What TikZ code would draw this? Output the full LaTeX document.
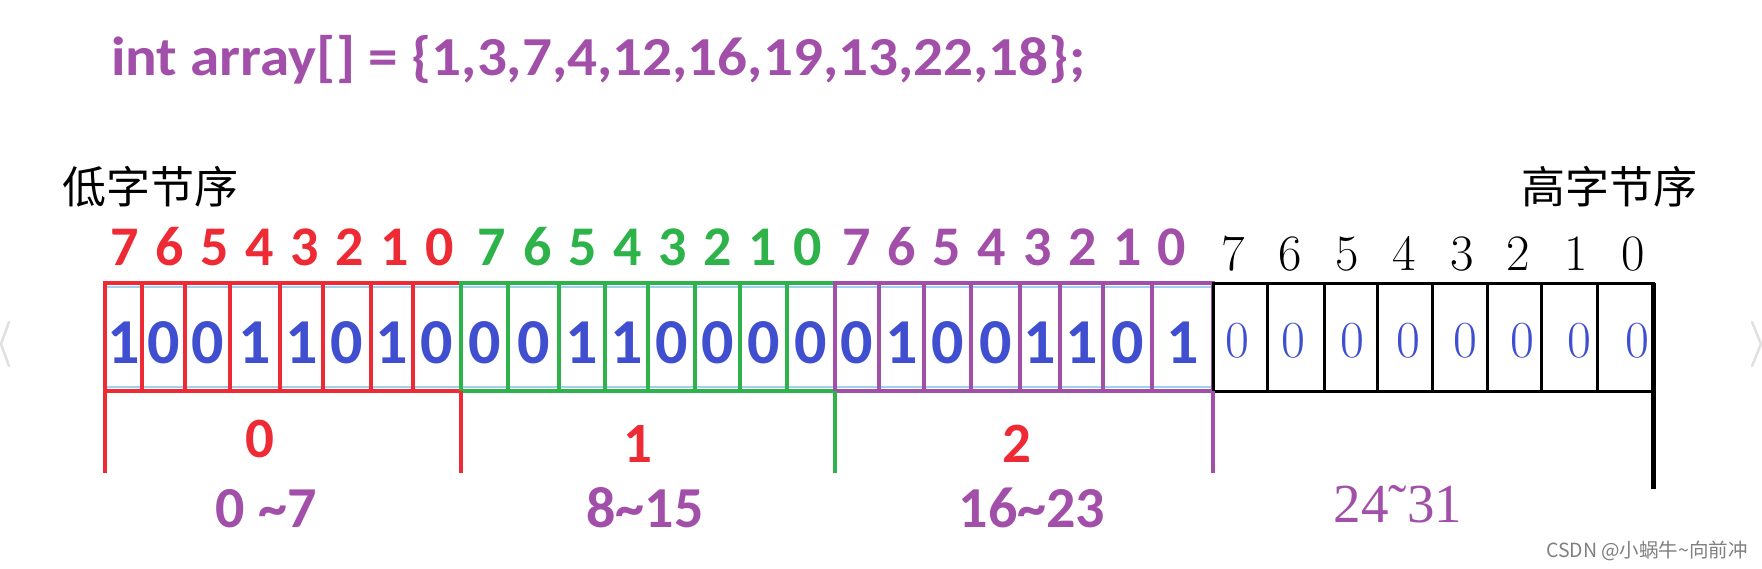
\documentclass[tikz,border=0pt]{standalone}
\usepackage{fontspec}
\newfontfamily\calib{Carlito}
\newfontfamily\cjk{Noto Sans CJK SC}
\newfontfamily\tnr{Liberation Serif}
\definecolor{cred}{HTML}{EE2A35}
\definecolor{cgreen}{HTML}{2DB34A}
\definecolor{cpurple}{HTML}{A24FA9}
\definecolor{cblue}{HTML}{3F4FCF}
\definecolor{lblue}{HTML}{9FD0EE}
\tikzset{
  cell/.style={draw, minimum height=108pt, inner sep=0pt, outer sep=0pt},
  bitnum/.style={font={\calib\bfseries\fontsize{56}{60}\selectfont}, anchor=base, inner sep=0pt},
  bitval/.style={font={\calib\bfseries\fontsize{64}{70}\selectfont}, text=cblue, anchor=base, inner sep=0pt},
  cmnum/.style={font={\fontsize{51}{56}\selectfont}, anchor=base, inner sep=0pt},
  cmval/.style={font={\fontsize{52}{56}\selectfont}, text=cblue, anchor=base, inner sep=0pt},
  grplabel/.style={font={\calib\bfseries\fontsize{57}{60}\selectfont}, text=cred, anchor=base, inner sep=0pt},
  rnglabel/.style={font={\calib\bfseries\fontsize{58}{60}\selectfont}, text=cpurple, anchor=base, inner sep=0pt},
  cjklabel/.style={font={\cjk\fontsize{44}{48}\selectfont}, anchor=base, inner sep=0pt},
  bracket/.style={line width=3.5pt},
}
\begin{document}
\begin{tikzpicture}[x=1pt,y=-1pt]
\useasboundingbox (0,0) rectangle (1762,568);
\fill[white] (0,0) rectangle (1762,568);

% title
\node[font={\calib\bfseries\fontsize{55}{60}\selectfont}, text=cpurple, anchor=base west, inner sep=0pt] (title) at (111,75) {\scalebox{1.075}[1]{int array[] = \{1,3,7,4,12,16,19,13,22,18\};}};

% byte order labels
\node[cjklabel] (low) at (150,203) {低字节序};
\node[cjklabel] (high) at (1609,203) {高字节序};

% light blue inner lines
\draw[lblue, line width=2pt] (105,287) -- (1213,287);
\draw[lblue, line width=2pt] (105,387) -- (1213,387);

% red group (byte 0)
\foreach \i/\a/\b/\v/\n in {1/105/142/1/125,2/142/185/0/170,3/185/230/0/215,4/230/280/1/260,5/280/323/1/305,6/323/371/0/350,7/371/413/1/395,8/413/461/0/440}{
  \pgfmathsetmacro\w{\b-\a}
  \pgfmathsetmacro\c{(\a+\b)/2}
  \pgfmathtruncatemacro\k{8-\i}
  \node[cell, draw=cred, line width=3.5pt, minimum width=\w pt] (r\i) at (\c,337) {};
  \node[bitval] (rv\i) at (\c,363) {\v};
  \node[bitnum, text=cred] (rn\i) at (\n,265) {\k};
}
% green group (byte 1)
\foreach \i/\a/\b/\v/\n in {1/461/508/0/492,2/508/559/0/538,3/559/605/1/583,4/605/648/1/628,5/648/695/0/673,6/695/740/0/718,7/740/787/0/763,8/787/835/0/808}{
  \pgfmathsetmacro\w{\b-\a}
  \pgfmathsetmacro\c{(\a+\b)/2}
  \pgfmathtruncatemacro\k{8-\i}
  \node[cell, draw=cgreen, line width=3.5pt, minimum width=\w pt] (g\i) at (\c,337) {};
  \node[bitval] (gv\i) at (\c,363) {\v};
  \node[bitnum, text=cgreen] (gn\i) at (\n,265) {\k};
}
% purple group (byte 2)
\foreach \i/\a/\b/\v/\n in {1/835/879/0/857,2/879/924/1/902,3/924/971/0/947,4/971/1020/0/992,5/1020/1060/1/1038,6/1060/1103/1/1083,7/1103/1152/0/1128,8/1152/1213/1/1172}{
  \pgfmathsetmacro\w{\b-\a}
  \pgfmathsetmacro\c{(\a+\b)/2}
  \pgfmathtruncatemacro\k{8-\i}
  \node[cell, draw=cpurple, line width=3.5pt, minimum width=\w pt] (p\i) at (\c,337) {};
  \node[bitval] (pv\i) at (\c,363) {\v};
  \node[bitnum, text=cpurple] (pn\i) at (\n,265) {\k};
}
% black group (byte 3)
\foreach \i/\a/\b/\n/\m in {1/1213/1267/1233/1237,2/1267/1324/1290/1293,3/1324/1377/1347/1352,4/1377/1432/1404/1408,5/1432/1487/1462/1465,6/1487/1541/1518/1522,7/1541/1597/1576/1579,8/1597/1653/1633/1637}{
  \pgfmathsetmacro\w{\b-\a}
  \pgfmathsetmacro\c{(\a+\b)/2}
  \pgfmathtruncatemacro\k{8-\i}
  \node[cell, draw=black, line width=3pt, minimum width=\w pt] (b\i) at (\c,337) {};
  \node[cmval] (bv\i) at (\m,357) {0};
  \node[cmnum] (bn\i) at (\n,270) {\k};
}

% brackets
\draw[bracket, cred] (r1.south west) -- ++(0,82);
\draw[bracket, cred] (r8.south east) -- ++(0,82);
\draw[bracket, cgreen] (g8.south east) -- ++(0,82);
\draw[bracket, cpurple] (p8.south east) -- ++(0,82);
\draw[line width=5pt] (b8.north east) -- ++(0,206);

% byte index labels
\node[grplabel] (i0) at (260,457) {0};
\node[grplabel] (i1) at (638,462) {1};
\node[grplabel] (i2) at (1017,462) {2};

% bit range labels
\node[rnglabel] (rg0) at (266,527) {0 \textasciitilde7};
\node[rnglabel] (rg1) at (645,527) {8\textasciitilde15};
\node[rnglabel] (rg2) at (1032,527) {16\textasciitilde23};
\node[font={\tnr\fontsize{55}{58}\selectfont}, text=cpurple, anchor=base, inner sep=0pt] (rg3) at (1398,522) {24˜31};

% watermark
\node[font={\cjk\fontsize{19.5}{22}\selectfont}, text=black!50, anchor=base east, inner sep=0pt] (wm) at (1748,557) {CSDN @小蜗牛\textasciitilde 向前冲};

% carousel chevrons
\draw[black!12, line width=2.5pt, line cap=round, line join=round] (9,322) -- (1,344) -- (9,366);
\draw[black!12, line width=2.5pt, line cap=round, line join=round] (1752,322) -- (1761,344) -- (1752,366);
\end{tikzpicture}
\end{document}
